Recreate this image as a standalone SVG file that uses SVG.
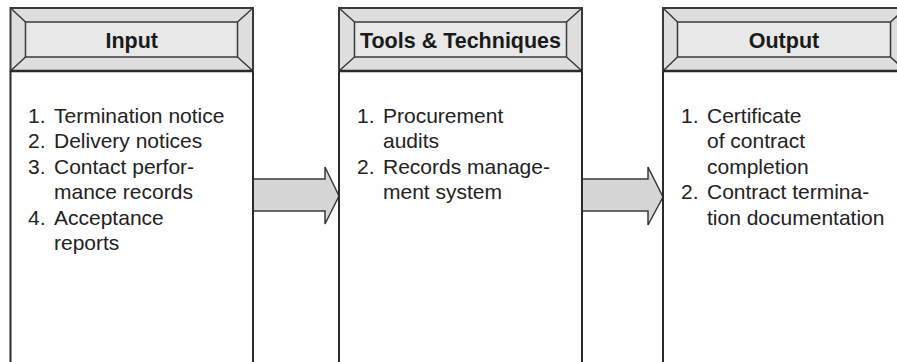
<svg xmlns="http://www.w3.org/2000/svg" width="897" height="362" viewBox="0 0 897 362">
<defs>
<style>
.bevel{fill:#dedede;stroke:#3a3a3a;stroke-width:2}
.inner{fill:#e8e8e8;stroke:#3a3a3a;stroke-width:1.5}
.diag{stroke:#3a3a3a;stroke-width:1.5;fill:none}
.body{fill:#fefefe;stroke:#2a2a2a;stroke-width:2}
.title{font-family:"Liberation Sans",Arial,sans-serif;font-weight:bold;font-size:21.5px;fill:#1a1a1a;text-anchor:middle}
.txt{font-family:"Liberation Sans",Arial,sans-serif;font-size:21px;fill:#222}
.arrow{fill:#d6d6d6;stroke:#3a3a3a;stroke-width:1.5;stroke-linejoin:miter}
</style>
</defs>
<rect width="897" height="362" fill="#fefefe"/>
<g id="connectors">
<path class="arrow" d="M253,179 H325 V167 L339,196 L325,224 V211 H253 Z"/>
<path class="arrow" d="M582,179 H648 V167 L663,197 L648,225 V211 H582 Z"/>
</g>
<g id="input">
<path class="body" d="M10.5,71 V364 M253,71 V364"/>
<rect class="bevel" x="10.5" y="8" width="242.5" height="63"/>
<rect class="inner" x="25.5" y="22" width="212" height="35"/>
<path class="diag" d="M10.5,8 L25.5,22 M253,8 L237.5,22 M10.5,71 L25.5,57 M253,71 L237.5,57"/>
<line x1="10.5" y1="71" x2="253" y2="71" stroke="#2a2a2a" stroke-width="2.5"/>
<text class="title" x="131.75" y="48">Input</text>
<text class="txt" x="28" y="122.5">1.</text><text class="txt" x="54" y="122.5">Termination notice</text>
<text class="txt" x="28" y="148">2.</text><text class="txt" x="54" y="148">Delivery notices</text>
<text class="txt" x="28" y="173.5">3.</text><text class="txt" x="54" y="173.5">Contact perfor-</text>
<text class="txt" x="54" y="199">mance records</text>
<text class="txt" x="28" y="224.5">4.</text><text class="txt" x="54" y="224.5">Acceptance</text>
<text class="txt" x="54" y="250">reports</text>
</g>
<g id="tools">
<path class="body" d="M339,71 V364 M582,71 V364"/>
<rect class="bevel" x="339" y="8" width="243" height="63"/>
<rect class="inner" x="354.5" y="22" width="212" height="35"/>
<path class="diag" d="M339,8 L354.5,22 M582,8 L566.5,22 M339,71 L354.5,57 M582,71 L566.5,57"/>
<line x1="339" y1="71" x2="582" y2="71" stroke="#2a2a2a" stroke-width="2.5"/>
<text class="title" x="460.5" y="48">Tools &amp; Techniques</text>
<text class="txt" x="357" y="122.5">1.</text><text class="txt" x="383" y="122.5">Procurement</text>
<text class="txt" x="383" y="148">audits</text>
<text class="txt" x="357" y="173.5">2.</text><text class="txt" x="383" y="173.5">Records manage-</text>
<text class="txt" x="383" y="199">ment system</text>
</g>
<g id="output">
<path class="body" d="M663,71 V364 M906,71 V364"/>
<rect class="bevel" x="663" y="8" width="243" height="63"/>
<rect class="inner" x="677.5" y="22" width="213" height="35"/>
<path class="diag" d="M663,8 L677.5,22 M906,8 L890.5,22 M663,71 L677.5,57 M906,71 L890.5,57"/>
<line x1="663" y1="71" x2="906" y2="71" stroke="#2a2a2a" stroke-width="2.5"/>
<text class="title" x="784" y="48">Output</text>
<text class="txt" x="681" y="122.5">1.</text><text class="txt" x="707" y="122.5">Certificate</text>
<text class="txt" x="707" y="148">of contract</text>
<text class="txt" x="707" y="173.5">completion</text>
<text class="txt" x="681" y="199">2.</text><text class="txt" x="707" y="199">Contract termina-</text>
<text class="txt" x="707" y="224.5">tion documentation</text>
</g>
</svg>
